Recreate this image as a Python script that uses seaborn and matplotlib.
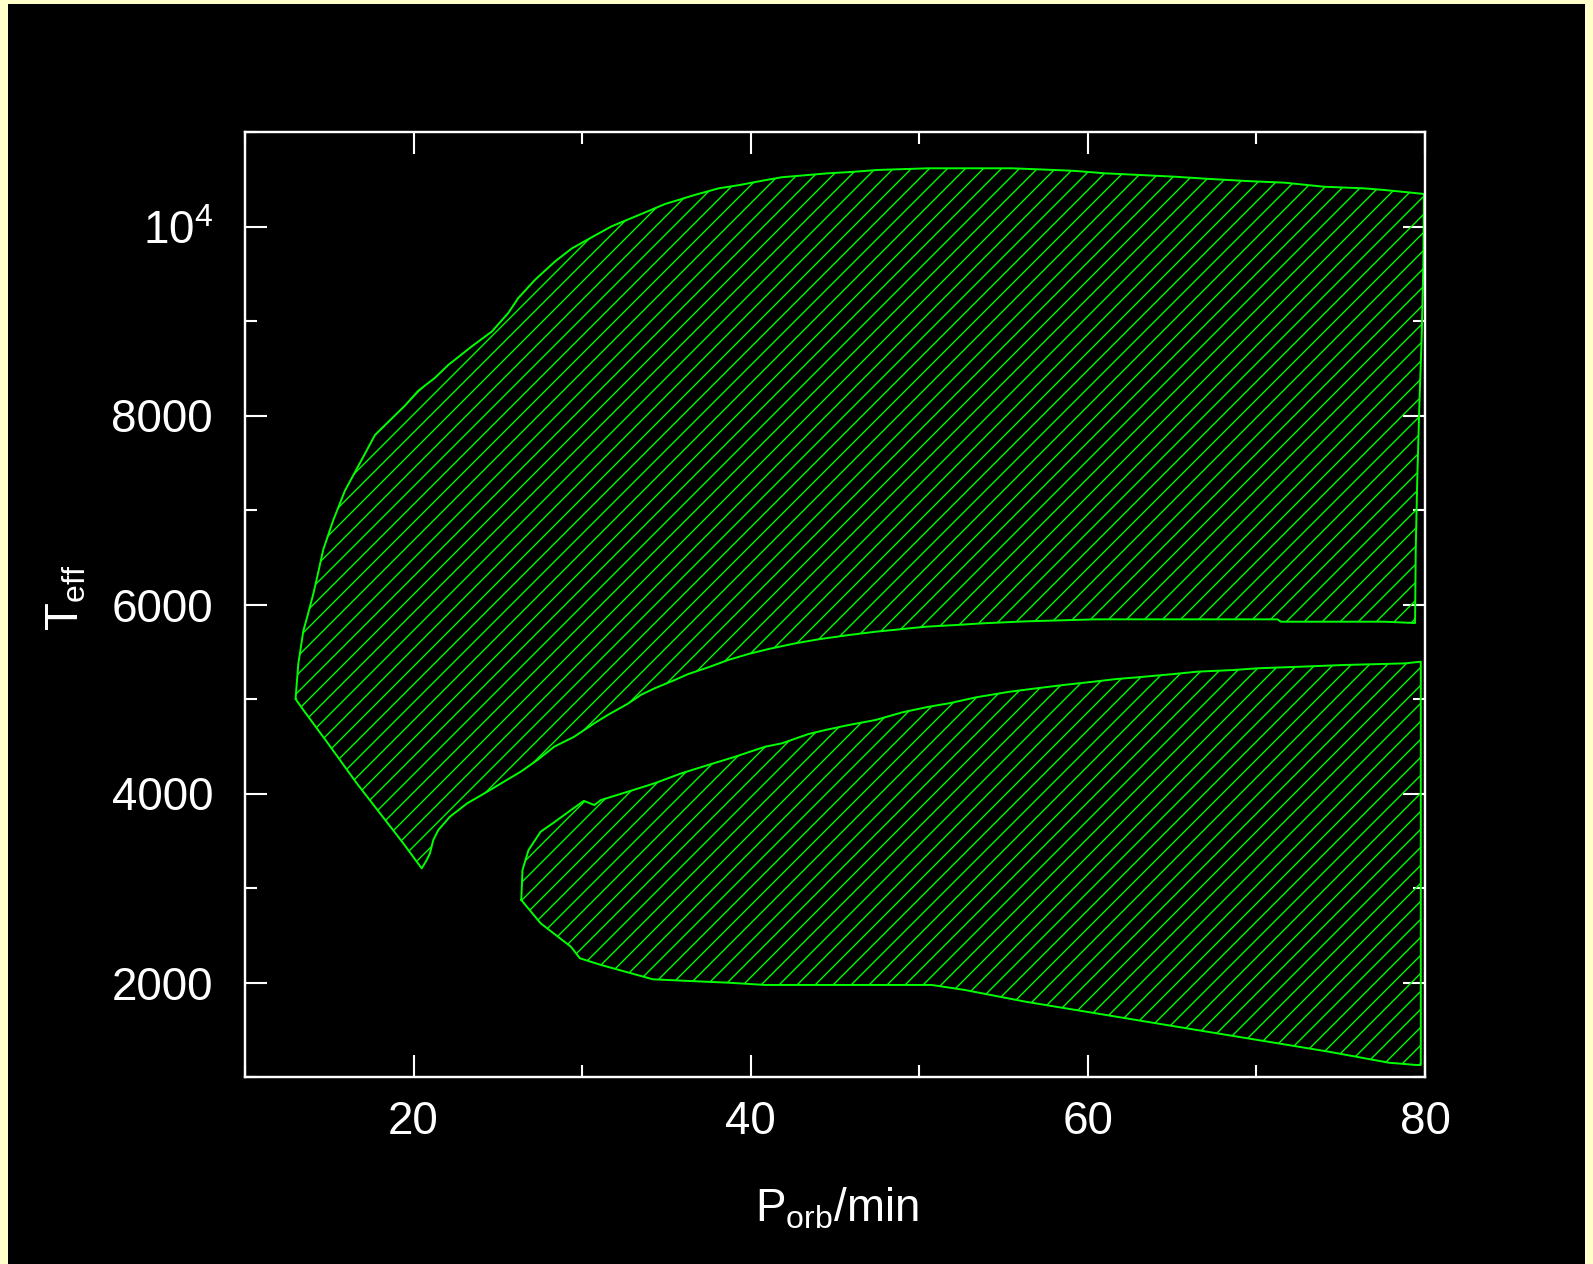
import matplotlib
matplotlib.use("Agg")
import matplotlib.pyplot as plt
import seaborn as sns
import pandas as pd
from matplotlib.ticker import MultipleLocator, FixedLocator, FixedFormatter
from matplotlib.patches import Rectangle

# ---------------- data ----------------
# upper region: P_orb [min], T_eff [K]  (closed outline, drawn in order)
upper_p = [13.0, 13.16, 13.46, 13.76, 14.05, 14.35, 14.64, 15.24, 15.93, 17.12, 17.71,
           19.49, 20.28, 21.27, 22.06, 23.45, 24.64, 25.62, 26.21, 27.2, 28.39, 29.38,
           30.76, 31.75, 33.33, 34.92, 36.7, 38.1, 39.34, 40.58, 41.83, 43.2, 44.58,
           45.97, 47.49, 50.52, 55.5, 59.1, 61.0, 63.1, 65.16, 67.23, 69.44, 71.65,
           74.0, 76.35, 77.6, 78.97, 79.94,
           79.9, 79.8, 79.66, 79.54, 79.45, 79.41,
           77.6, 71.45, 71.25, 60.5, 56.35, 53.77, 52.18, 50.39, 49.2, 47.41, 45.82,
           44.03, 42.65, 41.06, 39.86, 38.67, 37.48, 36.29, 35.49, 34.3, 33.5, 32.71,
           31.52, 30.72, 29.53, 28.34, 27.35, 26.36, 25.36, 24.37, 23.18, 22.16, 21.47,
           21.17, 20.97, 20.78, 20.48,
           19.39, 18.01, 16.63, 14.85, 13.46]
upper_t = [5000, 5370, 5720, 5914, 6111, 6344, 6580, 6894, 7205, 7597, 7794,
           8105, 8262, 8399, 8535, 8731, 8888, 9085, 9243, 9435, 9630, 9767,
           9905, 10002, 10119, 10238, 10335, 10404, 10439, 10481, 10521, 10542, 10563,
           10577, 10598, 10616, 10616, 10590, 10563, 10545, 10527, 10503, 10481, 10464,
           10421, 10404, 10386, 10362, 10344,
           9575, 8820, 8079, 7317, 6577, 5804,
           5818, 5818, 5843, 5843, 5822, 5801, 5783, 5765, 5744, 5712, 5677,
           5632, 5589, 5529, 5476, 5413, 5335, 5264, 5201, 5113, 5045, 4950,
           4831, 4743, 4601, 4495, 4355, 4231, 4125, 4019, 3896, 3755, 3614,
           3508, 3367, 3296, 3208,
           3473, 3790, 4108, 4548, 4884]

# lower region
lower_p = [26.39, 26.46, 26.82, 27.54, 28.3, 29.3, 30.1, 30.72, 31.12, 32.71, 34.3,
           35.89, 37.48, 39.07, 40.85, 41.85, 43.44, 44.43, 45.82, 47.41, 49.0, 50.59,
           51.78, 53.37, 55.36, 56.95, 58.54, 60.33, 61.72, 62.91, 65.09, 66.48, 68.67,
           70.06, 72.65, 75.23, 78.8, 79.75,
           79.75,
           79.49, 77.87, 74.28, 70.68, 67.09, 63.49, 59.9, 56.3, 52.7, 50.73, 40.84,
           38.68, 36.35, 34.19, 32.57, 31.13, 29.87, 29.33, 27.54]
lower_t = [2873, 3190, 3402, 3596, 3690, 3820, 3922, 3878, 3931, 4019, 4108,
           4214, 4302, 4389, 4495, 4531, 4630, 4672, 4725, 4778, 4859, 4919,
           4955, 5018, 5077, 5113, 5148, 5183, 5212, 5229, 5264, 5289, 5307,
           5325, 5342, 5360, 5377, 5395,
           1127,
           1127, 1151, 1268, 1374, 1479, 1585, 1691, 1797, 1921, 1974, 1974,
           1998, 2016, 2034, 2114, 2185, 2256, 2379, 2626]

x_ticks = [20, 40, 60, 80]
x_tick_labels = ["20", "40", "60", "80"]
y_ticks = [2000, 4000, 6000, 8000, 10000]
y_tick_labels = ["2000", "4000", "6000", "8000", r"$\mathregular{10^4}$"]
x_label = r"$\mathregular{P_{orb}/min}$"
y_label = r"$\mathregular{T_{eff}}$"

# ---------------- style ----------------
GREEN = "#00ff00"
sns.set_style("ticks")
plt.rcParams["font.family"] = ["Liberation Sans", "DejaVu Sans"]
plt.rcParams["hatch.color"] = GREEN
plt.rcParams["hatch.linewidth"] = 0.9

DPI = 108
W, H = 1593, 1264
fig = plt.figure(figsize=(W / DPI, H / DPI), dpi=DPI, facecolor="#ffffcc")
# black canvas inside the pale-yellow frame
fig.patches.append(Rectangle((8 / W, 0), (1585 - 8) / W, (H - 4) / H,
                             transform=fig.transFigure, facecolor="black",
                             edgecolor="none", zorder=-10))

ax = fig.add_axes([245 / W, 1 - 1077 / H, 1180 / W, 945 / H])
ax.set_zorder(1)
ax.set_facecolor("black")

for p, t in ((upper_p, upper_t), (lower_p, lower_t)):
    ax.fill(p, t, facecolor="none", edgecolor=GREEN, hatch="//", linewidth=0)
    df = pd.DataFrame({"P": list(p) + [p[0]], "T": list(t) + [t[0]]})
    sns.lineplot(data=df, x="P", y="T", sort=False, estimator=None,
                 color=GREEN, linewidth=1.3, ax=ax)

ax.set_xlim(10, 80)
ax.set_ylim(1000, 11000)

ax.xaxis.set_major_locator(FixedLocator(x_ticks))
ax.xaxis.set_major_formatter(FixedFormatter(x_tick_labels))
ax.xaxis.set_minor_locator(MultipleLocator(10))
ax.yaxis.set_major_locator(FixedLocator(y_ticks))
ax.yaxis.set_major_formatter(FixedFormatter(y_tick_labels))
ax.yaxis.set_minor_locator(MultipleLocator(1000))

for s in ax.spines.values():
    s.set_color("white")
    s.set_linewidth(1.6)

ax.tick_params(which="both", direction="in", top=True, right=True,
               color="white", width=1.4, labelcolor="white")
ax.tick_params(which="major", length=14.7, labelsize=30.5)
ax.tick_params(axis="x", which="major", pad=15.3)
ax.tick_params(axis="y", which="major", pad=21.3)
ax.tick_params(which="minor", length=8)

ax.set_xlabel(x_label, fontsize=30.5, color="white")
ax.set_ylabel(y_label, fontsize=30.5, color="white")
ax.xaxis.set_label_coords(0.502, -0.1153)
ax.yaxis.set_label_coords(-0.133, 0.507)

fig.savefig("out.png", dpi=DPI, facecolor=fig.get_facecolor())
